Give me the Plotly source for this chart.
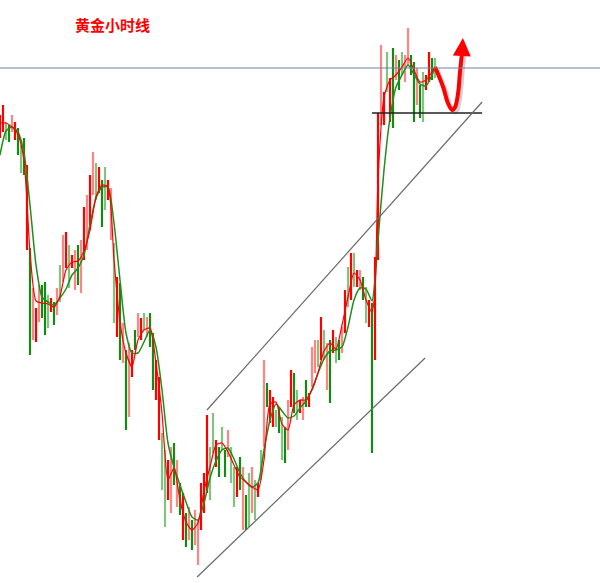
import plotly.graph_objects as go

# ---------------- data (hourly gold bars) ----------------
bar_kind = list(
    "RRgGrRGgGR" "GrRrGGgRGr" "grRgRrGrRr" "RrgRGgRrgR" "GrGrRGrRgr"
    "GGRRggRrGr" "GRGrGrrRRR" "ggRGgGrggR" "GrGgrgRgrG" "RRgGgGrRGg"
    "RrGRrrgRgr" "GRgGrRgRgR" "rGgRGRRrRg" "RGrGgrrGGr" "GgRRGg"
)
bar_high = [
    1348.5, 1349.5, 1347.8, 1347.5, 1348.5, 1347.8, 1347.2, 1345.5, 1346.2, 1343.5,
    1335.2, 1331.2, 1329.2, 1331.5, 1331.5, 1331.8, 1330.5, 1330.2, 1329.8, 1331.2,
    1333.5, 1336.5, 1336.8, 1335.5, 1334.5, 1335.0, 1335.5, 1336.0, 1339.3, 1340.5,
    1342.5, 1344.8, 1343.7, 1343.3, 1342.0, 1343.3, 1342.0, 1341.2, 1335.7, 1332.3,
    1331.7, 1327.7, 1325.0, 1325.7, 1325.0, 1327.0, 1328.7, 1328.2, 1328.7, 1328.3,
    1328.7, 1326.7, 1324.0, 1322.3, 1316.7, 1315.0, 1314.0, 1315.3, 1315.7, 1314.0,
    1311.7, 1310.7, 1308.7, 1309.3, 1308.0, 1309.0, 1308.0, 1311.7, 1312.7, 1318.5,
    1315.3, 1318.7, 1316.0, 1315.3, 1317.3, 1315.0, 1317.0, 1315.3, 1313.3, 1313.3,
    1314.3, 1313.3, 1310.5, 1312.7, 1313.3, 1312.0, 1311.7, 1315.0, 1324.0, 1321.7,
    1321.0, 1320.3, 1319.0, 1319.3, 1318.3, 1317.3, 1320.0, 1323.0, 1322.7, 1321.0,
    1320.0, 1320.3, 1322.0, 1320.7, 1325.3, 1326.0, 1326.0, 1328.3, 1327.0, 1325.7,
    1326.0, 1327.0, 1326.3, 1326.0, 1327.3, 1331.0, 1333.3, 1334.7, 1334.7, 1333.0,
    1333.0, 1332.3, 1331.3, 1330.0, 1329.7, 1334.3, 1348.7, 1355.5, 1350.8, 1354.8,
    1352.2, 1355.2, 1354.5, 1354.0, 1354.8, 1354.5, 1357.2, 1354.5, 1353.8, 1353.2,
    1351.5, 1352.8, 1352.5, 1354.8, 1354.2, 1354.2,
]
bar_low = [
    1346.2, 1346.8, 1346.0, 1345.8, 1346.8, 1346.0, 1344.5, 1342.7, 1342.5, 1335.0,
    1324.5, 1326.0, 1325.8, 1327.8, 1328.2, 1326.5, 1327.2, 1328.8, 1327.5, 1328.5,
    1329.8, 1331.8, 1333.2, 1331.2, 1333.2, 1331.0, 1331.5, 1330.7, 1334.0, 1335.0,
    1337.0, 1340.5, 1340.0, 1340.7, 1337.3, 1339.0, 1340.0, 1336.0, 1327.7, 1326.3,
    1324.0, 1323.7, 1317.0, 1318.3, 1322.3, 1325.0, 1326.3, 1326.0, 1327.0, 1326.3,
    1325.3, 1321.0, 1320.0, 1316.0, 1311.0, 1307.3, 1310.0, 1308.7, 1311.5, 1309.3,
    1308.5, 1306.0, 1305.3, 1306.0, 1305.0, 1305.5, 1303.5, 1307.0, 1308.7, 1310.7,
    1310.0, 1314.7, 1313.3, 1312.3, 1315.0, 1312.3, 1314.3, 1311.7, 1309.3, 1310.3,
    1311.0, 1307.0, 1307.0, 1307.3, 1308.7, 1308.0, 1310.3, 1312.0, 1315.3, 1319.3,
    1317.7, 1317.3, 1317.3, 1316.7, 1314.0, 1313.7, 1315.0, 1319.3, 1318.7, 1318.0,
    1318.7, 1318.0, 1319.3, 1319.3, 1321.3, 1322.7, 1323.3, 1324.0, 1324.0, 1321.0,
    1319.7, 1324.7, 1323.7, 1324.0, 1324.7, 1326.7, 1329.3, 1330.0, 1331.3, 1331.3,
    1331.0, 1330.0, 1327.7, 1327.3, 1314.7, 1324.0, 1334.0, 1347.5, 1347.5, 1350.8,
    1347.8, 1347.2, 1352.0, 1351.0, 1352.5, 1351.8, 1353.5, 1352.5, 1347.8, 1349.5,
    1348.2, 1347.8, 1351.0, 1351.8, 1352.0, 1352.2,
]

ma_x = [0, 2, 4, 6, 8, 10, 12, 14, 16, 18, 20, 22, 24, 26, 28, 30, 32, 34, 36, 38,
        40, 42, 44, 46, 48, 50, 52, 54, 56, 58, 60, 62, 64, 66, 68, 70, 72, 74, 76, 78,
        80, 82, 84, 86, 88, 90, 92, 94, 96, 98, 100, 102, 104, 106, 108, 110, 112, 114,
        116, 118, 120, 122, 124, 125, 126, 128, 130, 132, 134, 136, 138, 140, 142, 144, 145]
ma_fast = [1347.7, 1347.7, 1347.3, 1346.6, 1344.0, 1334.8, 1329.9, 1329.7, 1329.6, 1329.3,
           1330.4, 1333.0, 1333.8, 1333.9, 1334.9, 1337.0, 1340.3, 1341.5, 1341.3, 1334.0,
           1327.8, 1324.7, 1323.3, 1326.0, 1327.0, 1327.2, 1323.7, 1318.7, 1312.0, 1313.2,
           1310.0, 1307.8, 1307.0, 1307.7, 1310.9, 1313.3, 1315.5, 1315.7, 1314.8, 1313.5,
           1312.3, 1311.8, 1311.3, 1311.0, 1314.0, 1319.6, 1319.8, 1317.6, 1317.0, 1319.5,
           1320.0, 1320.0, 1321.0, 1322.7, 1324.9, 1325.7, 1325.1, 1327.5, 1330.3, 1332.7,
           1332.0, 1330.0, 1328.8, 1331.0, 1342.0, 1350.3, 1352.0, 1352.5, 1353.3, 1354.2,
           1353.0, 1351.8, 1352.0, 1352.8, 1353.3]
ma_slow = [1344.5, 1346.9, 1347.3, 1346.8, 1344.7, 1339.5, 1333.5, 1330.3, 1329.8, 1329.5,
           1330.2, 1331.1, 1332.5, 1333.2, 1334.5, 1337.5, 1340.2, 1341.3, 1341.3, 1337.7,
           1332.0, 1326.7, 1324.7, 1324.7, 1325.8, 1327.0, 1325.3, 1321.0, 1315.7, 1313.3,
           1311.5, 1309.8, 1308.3, 1308.0, 1309.7, 1312.2, 1313.9, 1315.0, 1315.2, 1314.1,
           1312.7, 1311.8, 1311.3, 1311.7, 1315.0, 1318.0, 1319.6, 1318.9, 1318.2, 1318.4,
           1319.2, 1319.9, 1321.1, 1322.7, 1324.1, 1324.9, 1325.0, 1325.3, 1327.3, 1330.0,
           1331.2, 1331.1, 1329.9, 1332.0, 1336.0, 1343.0, 1348.2, 1351.3, 1352.5, 1353.5,
           1352.6, 1351.6, 1351.4, 1352.5, 1353.2]

# drawing annotations (trend analysis)
level_line = 1353.2                     # blue-grey horizontal level
support_x = [124, 160.7]
support_y = 1348.7
channel_upper_x = [69, 160.7]
channel_upper_y = [1319.0, 1349.8]
channel_lower_x = [65.7, 141.7]
channel_lower_y = [1302.3, 1324.2]
path_x = [145, 147.7, 149.3, 150.7, 151.7, 152.7, 153.3, 154.0]
path_y = [1353.3, 1351.3, 1349.7, 1349.0, 1349.3, 1350.7, 1352.7, 1354.7]
title_text = "黄金小时线"

# ---------------- figure ----------------
kind_color = {"R": "#ff0000", "r": "#ff8585", "G": "#138a13", "g": "#80c480"}
fig = go.Figure()

for kind in ["g", "r", "G", "R"]:
    xs, ys = [], []
    for i, k in enumerate(bar_kind):
        if k == kind:
            xs += [i, i, None]
            ys += [bar_low[i], bar_high[i], None]
    fig.add_trace(go.Scatter(x=xs, y=ys, mode="lines",
                             line=dict(color=kind_color[kind], width=2.2),
                             hoverinfo="skip"))

fig.add_trace(go.Scatter(x=ma_x, y=ma_slow, mode="lines",
                         line=dict(color="#1c8f1c", width=1.5, shape="spline", smoothing=0.6),
                         hoverinfo="skip"))
fig.add_trace(go.Scatter(x=ma_x, y=ma_fast, mode="lines",
                         line=dict(color="#ff0000", width=1.2, shape="spline", smoothing=0.6),
                         hoverinfo="skip"))

# level / channel lines
fig.add_shape(type="line", xref="paper", yref="y", x0=0, x1=1, y0=level_line, y1=level_line,
              line=dict(color="#6f80a3", width=1))
fig.add_shape(type="line", xref="x", yref="y", x0=support_x[0], x1=support_x[1],
              y0=support_y, y1=support_y, line=dict(color="#222222", width=1.6))
fig.add_shape(type="line", xref="x", yref="y", x0=channel_upper_x[0], x1=channel_upper_x[1],
              y0=channel_upper_y[0], y1=channel_upper_y[1], line=dict(color="#6a6a6a", width=1.2))
fig.add_shape(type="line", xref="x", yref="y", x0=channel_lower_x[0], x1=channel_lower_x[1],
              y0=channel_lower_y[0], y1=channel_lower_y[1], line=dict(color="#6a6a6a", width=1.2))

# projected path arrow (shadow + red)
fig.add_trace(go.Scatter(x=[v + 0.8 for v in path_x], y=[v - 0.25 for v in path_y], mode="lines",
                         line=dict(color="rgba(0,0,0,0.18)", width=4, shape="spline"),
                         hoverinfo="skip"))
fig.add_trace(go.Scatter(x=path_x, y=path_y, mode="lines",
                         line=dict(color="#ff0000", width=4, shape="spline"),
                         hoverinfo="skip"))
fig.add_annotation(x=154.3, y=1356.2, ax=path_x[-1], ay=path_y[-1], xref="x", yref="y",
                   axref="x", ayref="y", showarrow=True, arrowhead=2, arrowsize=0.9,
                   arrowwidth=4, arrowcolor="#ff0000", text="", standoff=0, startstandoff=0)

fig.add_annotation(x=112 / 600, y=1 - 25 / 583, xref="paper", yref="paper", showarrow=False,
                   xanchor="center", yanchor="middle",
                   text="<b>" + title_text + "</b>",
                   font=dict(family="Noto Sans CJK SC", size=15, color="#ff0000"))

fig.update_layout(
    width=600, height=583, margin=dict(l=0, r=0, t=0, b=0),
    paper_bgcolor="white", plot_bgcolor="white", showlegend=False,
    xaxis=dict(visible=False, range=[0, 200]),
    yaxis=dict(visible=False, range=[1301.7, 1360]),
)

fig.write_html("out.html", config={"displayModeBar": False},
               post_script="document.body.style.margin='0';")
